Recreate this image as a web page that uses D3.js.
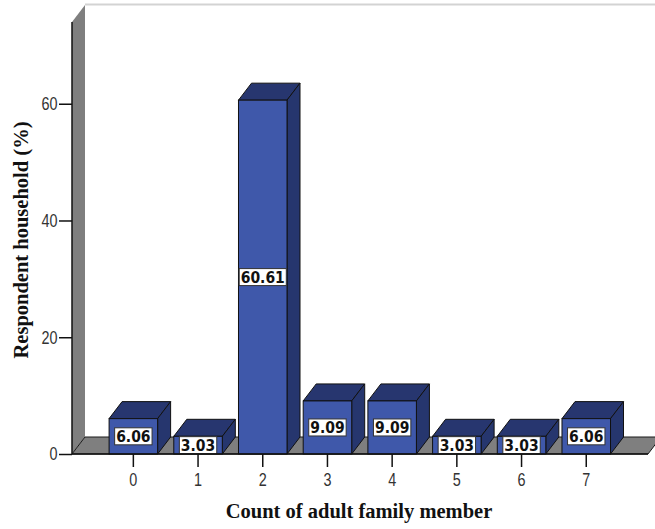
<!DOCTYPE html>
<html>
<head>
<meta charset="utf-8">
<script src="https://cdn.jsdelivr.net/npm/d3@7/dist/d3.min.js"></script>
<style>
  html, body { margin: 0; padding: 0; background: #fff; }
  svg { display: block; }
</style>
</head>
<body>
<svg id="chart" width="655" height="529"></svg>
<script>
// Share of respondent households by number of adult family members
const categories = ["0", "1", "2", "3", "4", "5", "6", "7"];
const percentages = [6.06, 3.03, 60.61, 9.09, 9.09, 3.03, 3.03, 6.06];
const yTicks = [0, 20, 40, 60];
const xTitle = "Count of adult family member";
const yTitle = "Respondent household (%)";

const svg = d3.select("#chart");

// plot frame
const plotLeft = 72, plotRight = 648, plotBottom = 454, plotTop = 22;
const depthX = 13, depthY = -17; // oblique offset for the 3-D look
const narrow = 0.8;               // horizontal squeeze for the tick numerals

const x = d3.scaleBand()
  .domain(categories)
  .range([101, 618.6])
  .paddingInner(0.25)
  .paddingOuter(0.125);

const y = d3.scaleLinear()
  .domain([0, 74])
  .range([plotBottom, plotTop]);

const pts = a => a.map(p => p.join(",")).join(" ");

// faint back border line
svg.append("line")
  .attr("x1", plotLeft + depthX).attr("x2", 655)
  .attr("y1", plotTop + depthY - 0.5).attr("y2", plotTop + depthY - 0.5)
  .attr("stroke", "#d3d3d3").attr("stroke-width", 2);

// side wall
svg.append("polygon")
  .attr("points", pts([[plotLeft, plotBottom], [plotLeft, plotTop], [plotLeft + depthX, plotTop + depthY], [plotLeft + depthX, plotBottom + depthY]]))
  .attr("fill", "#7f7f7f");

// floor
svg.append("polygon")
  .attr("points", pts([[plotLeft, plotBottom], [plotLeft + depthX, plotBottom + depthY], [plotRight + depthX, plotBottom + depthY], [plotRight, plotBottom]]))
  .attr("fill", "#7f7f7f")
  .attr("stroke", "#1a1a1a").attr("stroke-width", 1).attr("stroke-linejoin", "round");

// bars
const bw = x.bandwidth();
const bars = svg.append("g").selectAll("g")
  .data(categories.map((c, i) => ({ c, v: percentages[i] })))
  .join("g");

bars.append("polygon") // top face
  .attr("points", d => {
    const x0 = x(d.c), yt = y(d.v);
    return pts([[x0, yt], [x0 + depthX, yt + depthY], [x0 + bw + depthX, yt + depthY], [x0 + bw, yt]]);
  })
  .attr("fill", "#27366f").attr("stroke", "#111").attr("stroke-width", 1).attr("stroke-linejoin", "round");

bars.append("polygon") // side face
  .attr("points", d => {
    const x1 = x(d.c) + bw, yt = y(d.v);
    return pts([[x1, yt], [x1 + depthX, yt + depthY], [x1 + depthX, plotBottom + depthY], [x1, plotBottom]]);
  })
  .attr("fill", "#26366e").attr("stroke", "#111").attr("stroke-width", 1).attr("stroke-linejoin", "round");

bars.append("rect") // front face
  .attr("x", d => x(d.c))
  .attr("y", d => y(d.v))
  .attr("width", bw)
  .attr("height", d => plotBottom - y(d.v))
  .attr("fill", "#3f58aa").attr("stroke", "#111").attr("stroke-width", 1);

// value labels on the front faces
const labels = bars.append("g")
  .attr("transform", d => `translate(${x(d.c) + bw / 2},${(y(d.v) + plotBottom) / 2})`);
labels.append("text")
  .attr("text-anchor", "middle")
  .attr("dy", "0.37em")
  .attr("font-family", "'DejaVu Sans Condensed', 'DejaVu Sans', sans-serif")
  .attr("font-stretch", "condensed")
  .attr("font-weight", "bold")
  .attr("font-size", 15.5)
  .attr("fill", "#111")
  .text(d => d.v.toFixed(2))
  .each(function () {
    const b = this.getBBox();
    d3.select(this.parentNode).insert("rect", "text")
      .attr("x", b.x - 1.5).attr("y", -8.5)
      .attr("width", b.width + 3).attr("height", 17)
      .attr("fill", "#fff").attr("stroke", "#333").attr("stroke-width", 1);
  });

// y axis
const yAxis = svg.append("g")
  .attr("transform", `translate(${plotLeft},0)`)
  .call(d3.axisLeft(y).tickValues(yTicks).tickSize(13).tickPadding(1).tickFormat(d3.format("d")));
yAxis.select(".domain").attr("d", `M0,${plotBottom}V${plotTop}`).attr("stroke", "#111").attr("stroke-width", 1.5);
yAxis.selectAll(".tick line").attr("stroke", "#111").attr("stroke-width", 1.5);
yAxis.selectAll(".tick text")
  .attr("font-family", "'Liberation Sans', Arial, sans-serif")
  .attr("font-size", 18).attr("fill", "#333")
  .attr("x", -14.5 / narrow)
  .attr("transform", `scale(${narrow},1)`);

// x axis
const xAxis = svg.append("g")
  .attr("transform", `translate(0,${plotBottom})`)
  .call(d3.axisBottom(x).tickSize(13).tickPadding(6));
xAxis.select(".domain").attr("d", `M${plotLeft},0H${plotRight}`).attr("stroke", "#111").attr("stroke-width", 1.5);
xAxis.selectAll(".tick line").attr("stroke", "#111").attr("stroke-width", 1.5);
xAxis.selectAll(".tick text")
  .attr("font-family", "'Liberation Sans', Arial, sans-serif")
  .attr("font-size", 18).attr("fill", "#333")
  .attr("transform", `scale(${narrow},1)`);

// axis titles
svg.append("text")
  .attr("x", 359).attr("y", 518)
  .attr("text-anchor", "middle")
  .attr("font-family", "'Liberation Serif', 'Times New Roman', serif")
  .attr("font-weight", "bold").attr("font-size", 20.5).attr("fill", "#111")
  .text(xTitle);

svg.append("text")
  .attr("transform", "translate(28,240) rotate(-90)")
  .attr("text-anchor", "middle")
  .attr("font-family", "'Liberation Serif', 'Times New Roman', serif")
  .attr("font-weight", "bold").attr("font-size", 20.5).attr("fill", "#111")
  .text(yTitle);
</script>
</body>
</html>
